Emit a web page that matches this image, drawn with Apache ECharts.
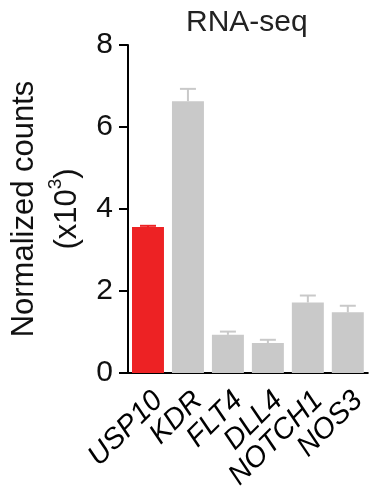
<!DOCTYPE html>
<html>
<head>
<meta charset="utf-8">
<script src="https://cdn.jsdelivr.net/npm/echarts@6/dist/echarts.min.js"></script>
<style>
html,body{margin:0;padding:0;background:#fff;}
#chart{width:370px;height:495px;}
</style>
</head>
<body>
<div id="chart"></div>
<script>
var categories = ['USP10', 'KDR', 'FLT4', 'DLL4', 'NOTCH1', 'NOS3'];
var means = [3.56, 6.63, 0.93, 0.73, 1.72, 1.48];
var errors = [0.03, 0.30, 0.08, 0.08, 0.17, 0.16];
var barColors = ['#ED2224', '#C9C9C9', '#C9C9C9', '#C9C9C9', '#C9C9C9', '#C9C9C9'];
var yTicks = [0, 2, 4, 6, 8];

var FONT = 'Liberation Sans, Arial, Helvetica, sans-serif';

var chart = echarts.init(document.getElementById('chart'));

var barData = means.map(function (v, i) {
  return { value: v, itemStyle: { color: barColors[i] } };
});
var errData = means.map(function (v, i) { return [i, v, errors[i]]; });

chart.setOption({
  animation: false,
  backgroundColor: '#fff',
  title: {
    text: 'RNA-seq',
    left: 181,
    top: 3,
    textStyle: { fontFamily: FONT, fontSize: 30, fontWeight: 'normal', color: '#222' }
  },
  grid: { left: 128, right: -3, top: 45, bottom: 122, containLabel: false },
  xAxis: {
    type: 'category',
    data: categories,
    axisLine: { lineStyle: { color: '#000', width: 2 } },
    axisTick: { alignWithLabel: true, length: 8, lineStyle: { color: '#000', width: 2 } },
    axisLabel: {
      rotate: 45,
      interval: 0,
      margin: 13,
      verticalAlign: 'top',
      fontFamily: FONT,
      fontStyle: 'italic',
      fontSize: 29,
      color: '#000'
    }
  },
  yAxis: {
    type: 'value',
    min: yTicks[0],
    max: yTicks[yTicks.length - 1],
    interval: 2,
    splitLine: { show: false },
    axisLine: { show: true, lineStyle: { color: '#000', width: 2 } },
    axisTick: { show: true, length: 9, lineStyle: { color: '#000', width: 2 } },
    axisLabel: { margin: 15, fontFamily: FONT, fontSize: 30, color: '#111' },
    name: '{a|Normalized counts}\n{a|(x10}{sup|3}{a|)}',
    nameLocation: 'middle',
    nameRotate: 90,
    nameGap: 39,
    nameTextStyle: {
      fontFamily: FONT,
      color: '#111',
      align: 'center',
      rich: {
        a: { fontFamily: FONT, fontSize: 31, lineHeight: 43, color: '#111' },
        sup: { fontFamily: FONT, fontSize: 19, lineHeight: 43, verticalAlign: 'top', padding: [0, 0, 6, 0], color: '#111' }
      }
    }
  },
  series: [
    {
      type: 'bar',
      data: barData,
      barWidth: '80%',
      z: 2
    },
    {
      type: 'custom',
      data: errData,
      z: 3,
      renderItem: function (params, api) {
        var idx = api.value(0);
        var top = api.value(1);
        var err = api.value(2);
        var p0 = api.coord([idx, top]);
        var p1 = api.coord([idx, top + err]);
        var half = 8;
        var col = barColors[idx];
        return {
          type: 'group',
          children: [
            { type: 'line', shape: { x1: p0[0], y1: p0[1], x2: p1[0], y2: p1[1] }, style: { stroke: col, lineWidth: 2 } },
            { type: 'line', shape: { x1: p1[0] - half, y1: p1[1], x2: p1[0] + half, y2: p1[1] }, style: { stroke: col, lineWidth: 2 } }
          ]
        };
      }
    }
  ]
});
</script>
</body>
</html>
